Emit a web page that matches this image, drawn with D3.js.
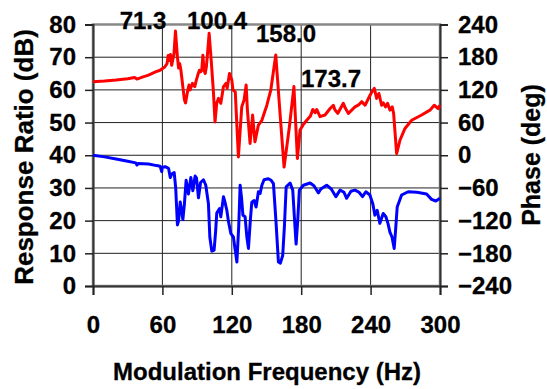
<!DOCTYPE html>
<html>
<head>
<meta charset="utf-8">
<script src="https://cdn.jsdelivr.net/npm/d3@7"></script>
<style>
  body { margin: 0; background: #fff; }
  svg text { font-family: "Liberation Sans", Arial, sans-serif; font-weight: bold; fill: #000; stroke: #000; stroke-width: 0.3px; }
</style>
</head>
<body>
<div id="chart"></div>
<script>
// magnitude (dB) vs modulation frequency (Hz)
const magFreq = [0,10,20,30,36,38,42,48,54,58,62,64,65,66,67,68,70,71.3,73,74,75,76,78,79,80,81,82,83,84,85,86,88,89,91,92,93,94,95,96,97,98,99,100.4,102,104,105.5,107,108.5,110.5,112.8,115,116,118,119,120,121,123,125.7,128.6,130.6,132.4,133.5,135.8,138,140,143,146,150.3,153.7,158,161.7,165.2,169.8,173.7,176.7,179,182,184.8,188,190,192,193.4,196.3,200.6,205,207.8,209,211.6,216.4,218,220.8,226.5,230,232.3,235.2,240.3,243.2,245.2,247.2,249.5,251,253,254.7,256.7,258.7,259.9,262.5,265.4,269.7,275.5,284.1,291.3,295,298.4,300];
const magDb = [62.5,62.7,63,63.4,63.8,63.3,63.8,64.5,65.5,66,67,68,70.5,69,70.8,67.5,71,78,70,66.7,68,66,60,57,56,58,60,61.5,60,61,62,61,62.5,65,66,65.5,66,70.6,66,65,67,71,77.3,70,60,50.2,56,57.4,55.9,61,62,60.5,65,64,63,60,59.4,39.5,54.8,56.9,61.5,53.8,43.6,52.3,44.1,49.2,50.7,55.3,59.9,70.7,52.8,36.4,48.7,61,39,47.7,49.5,50.7,52,54,53,54,51.8,52.3,54.3,55.3,54,52.8,55.9,54.5,52.8,54.8,55.5,56.4,55.3,58.9,60.5,57.4,58.9,55.3,56,54.8,55.9,53.8,54.8,52.8,40.5,44.6,48.2,50.7,52.3,53.8,55.3,54.3,55.3];

// phase (deg) vs modulation frequency (Hz)
const phaseFreq = [0,10,20,30,37,38,39,48,55,58,59.4,60,62.4,65.3,66.8,68.2,70.2,71.5,73,74,75.4,76.5,77.7,79,80.5,82.5,84.6,86.3,88.3,89.5,91.2,93,95.5,97.5,99.8,101,102.7,104.7,106,107,109.4,110.5,112.8,114,115.7,117,119.2,121.4,123,124.4,126,127.2,128.5,129.6,131.5,133,134.4,136,137.3,139.3,141,143,144.5,146,147.9,151.6,154,156,158.3,160.3,162,164,165.5,167,170.4,172.7,174,175.6,177,178.4,181.9,187.7,191,194.9,197,202,206,210,213.6,217,219.3,223,226.5,230,233,235.9,239.4,242,243.7,245.7,248,250.9,253.2,255,256.7,258.5,260.4,261.5,263,266.8,272.5,280,288.4,292.7,296.4,300];
const phaseDeg = [0,-3,-7,-11,-14,-18,-15,-16,-19,-20,-30,-22,-21,-24,-41,-34,-32,-60,-128,-120,-86,-100,-118,-90,-46,-71,-41,-65,-38,-42,-78,-50,-45,-55,-89,-150,-176,-174,-140,-106,-98,-113,-76,-85,-101,-120,-144,-150,-175,-196,-130,-55,-80,-110,-113,-150,-171,-120,-86,-83,-95,-67,-70,-55,-45,-43,-46,-52,-125,-196,-198,-184,-130,-58,-51,-64,-110,-163,-120,-64,-55,-51,-56,-69,-62,-55,-62,-76,-64,-68,-79,-66,-64,-68,-76,-67,-73,-90,-110,-101,-125,-107,-113,-125,-141,-150,-171,-140,-95,-73,-67,-68,-71,-81,-84,-79];

// ticks
const freqTicks = [0,60,120,180,240,300];
const dbTicks = [0,10,20,30,40,50,60,70,80];
const degTicks = [-240,-180,-120,-60,0,60,120,180,240];

// peak labels
const peakLabels = ["71.3","100.4","158.0","173.7"];

document.addEventListener('DOMContentLoaded', function() {
  const width = 547, height = 389;
  const left = 93, right = 440, top = 24.5, bottom = 286;

  const svg = d3.select('#chart')
    .append('svg')
    .attr('width', width)
    .attr('height', height);

  const x = d3.scaleLinear().domain([0, 300]).range([left, right]);
  const yL = d3.scaleLinear().domain([0, 80]).range([bottom, top]);
  const yR = d3.scaleLinear().domain([-240, 240]).range([bottom, top]);

  // grid
  svg.append('g')
    .selectAll('line.h')
    .data(dbTicks)
    .join('line')
    .attr('x1', left).attr('x2', right)
    .attr('y1', d => yL(d)).attr('y2', d => yL(d))
    .attr('stroke', '#222').attr('stroke-width', 1);

  svg.append('g')
    .selectAll('line.v')
    .data(freqTicks)
    .join('line')
    .attr('x1', d => x(d)).attr('x2', d => x(d))
    .attr('y1', top).attr('y2', bottom)
    .attr('stroke', '#222').attr('stroke-width', 1);

  // frame
  svg.append('rect')
    .attr('x', left).attr('y', top)
    .attr('width', right - left).attr('height', bottom - top)
    .attr('fill', 'none').attr('stroke', '#888').attr('stroke-width', 2.5);

  // axes
  const axisL = svg.append('g')
    .attr('transform', `translate(${left},0)`)
    .call(d3.axisLeft(yL).tickValues(dbTicks).tickSize(8).tickPadding(9));
  const axisR = svg.append('g')
    .attr('transform', `translate(${right},0)`)
    .call(d3.axisRight(yR).tickValues(degTicks).tickSize(8).tickPadding(10));
  const axisB = svg.append('g')
    .attr('transform', `translate(0,${bottom})`)
    .call(d3.axisBottom(x).tickValues(freqTicks).tickSize(9).tickPadding(21));

  [axisL, axisR, axisB].forEach(g => {
    g.select('.domain').attr('stroke', '#333').attr('stroke-width', 2);
    g.selectAll('.tick line').attr('stroke', '#222').attr('stroke-width', 1.5);
    g.selectAll('.tick text')
      .attr('font-family', '"Liberation Sans", Arial, sans-serif')
      .attr('font-weight', 'bold')
      .attr('font-size', 24)
      .attr('fill', '#000');
  });

  // series
  const magLine = d3.line()
    .x((d, i) => x(magFreq[i]))
    .y(d => yL(d));
  const phaseLine = d3.line()
    .x((d, i) => x(phaseFreq[i]))
    .y(d => yR(d));

  svg.append('path')
    .datum(phaseDeg)
    .attr('d', phaseLine)
    .attr('fill', 'none')
    .attr('stroke', '#0000ff')
    .attr('stroke-width', 3)
    .attr('stroke-linejoin', 'round');

  svg.append('path')
    .datum(magDb)
    .attr('d', magLine)
    .attr('fill', 'none')
    .attr('stroke', '#ff0000')
    .attr('stroke-width', 3)
    .attr('stroke-linejoin', 'round');

  // peak labels, placed beside their peaks
  const labelPos = [[143, 29], [217, 29], [286, 42], [331, 87]];
  svg.append('g')
    .selectAll('text')
    .data(peakLabels)
    .join('text')
    .attr('x', (d, i) => labelPos[i][0])
    .attr('y', (d, i) => labelPos[i][1])
    .attr('text-anchor', 'middle')
    .attr('font-size', 24)
    .text(d => d);

  // axis titles
  svg.append('text')
    .attr('transform', 'translate(33,157) rotate(-90)')
    .attr('text-anchor', 'middle')
    .attr('font-size', 26)
    .text('Response Ratio (dB)');

  svg.append('text')
    .attr('transform', 'translate(540,155) rotate(-90)')
    .attr('text-anchor', 'middle')
    .attr('font-size', 25)
    .text('Phase (deg)');

  svg.append('text')
    .attr('x', 267)
    .attr('y', 380)
    .attr('text-anchor', 'middle')
    .attr('font-size', 24)
    .text('Modulation Frequency (Hz)');
});
</script>
</body>
</html>
